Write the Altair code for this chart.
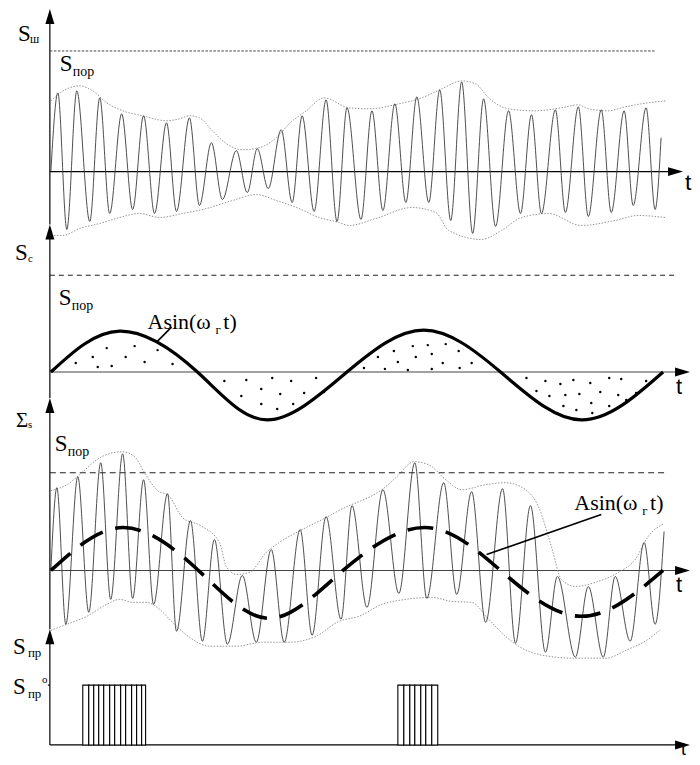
import altair as alt
import pandas as pd

# ---------------- data (t = time units, v = amplitude units; 0 = panel baseline) -------------
# Panel 1: noise S_ш  (carrier extrema)
p1_t = [1, 8, 17, 27, 40, 50, 60, 72, 83, 94, 105, 117, 127, 140, 150, 162, 173, 187, 198, 208,
        219, 232, 243, 253, 265, 277, 288, 298, 312, 323, 334, 346, 357, 368, 380, 391, 402, 413,
        424, 435, 447, 460, 472, 483, 493, 507, 517, 530, 540, 553, 563, 576, 585, 598, 607, 613]
p1_v = [0, 79, -58, 81, -50, 74, -42, 58, -38, 56, -42, 49, -40, 54, -34, 29, -28, 21, -21, 23,
        -17, 42, -31, 56, -40, 72, -50, 64, -48, 61, -39, 68, -31, 75, -31, 82, -49, 90,
        -62, 73, -55, 61, -42, 57, -42, 62, -41, 65, -45, 62, -41, 61, -34, 64, -38, 34]
p1_up_t = [1, 17, 30, 43, 57, 73, 93, 117, 130, 140, 150, 163, 177, 193, 210, 227, 240, 257, 275,
           300, 320, 350, 373, 393, 413, 427, 440, 460, 487, 513, 530, 540, 560, 577, 600, 618]
p1_up_v = [71, 83, 86, 81, 69, 61, 56, 51, 53, 56, 54, 41, 28, 22, 24, 34, 48, 61, 74,
           64, 63, 68, 74, 83, 91, 88, 74, 63, 61, 64, 67, 63, 61, 65, 69, 71]
p1_lo_t = [1, 13, 30, 50, 70, 90, 110, 133, 157, 183, 207, 227, 250, 270, 290, 300, 327, 363,
           387, 400, 433, 453, 473, 500, 533, 567, 590, 617]
p1_lo_v = [-64, -64, -57, -52, -46, -42, -46, -42, -37, -29, -23, -29, -37, -46, -51, -54, -47, -36,
           -41, -59, -68, -59, -46, -42, -54, -49, -44, -46]
p1_threshold = 121

# Panel 2: signal S_c = A sin(w t)
p2_t = [1, 70, 148, 218, 298, 375, 452, 533, 615]
p2_v = [0, 41, 0, -48, 0, 42, 0, -48, 0]
p2_threshold = 97
p2_dot_t = [26, 43, 48, 57, 62, 76, 85, 95, 108, 123,
            175, 197, 223, 242, 267, 192, 212, 231, 255, 275, 212, 228, 244,
            315, 329, 336, 345, 349, 359, 364, 367, 379, 383, 383, 394, 397, 410, 411, 423,
            478, 497, 512, 525, 542, 561, 573, 598, 488, 501, 517, 531, 552, 570, 578, 588,
            515, 528, 543, 544, 561]
p2_dot_v = [9, 15, 5, 24, 6, 15, 26, 10, 22, 8,
            -9, -8, -6, -9, -6, -24, -17, -22, -21, -20, -32, -37, -32,
            4, 15, 3, 21, 10, 2, 26, 15, 27, 18, 3, 9, 28, 21, 4, 9,
            -6, -9, -12, -8, -11, -6, -7, -9, -19, -24, -23, -22, -20, -23, -28, -21,
            -34, -38, -31, -41, -34]

# Panel 3: sum Σs
p3_t = [1, 7, 16, 28, 39, 51, 61, 73, 83, 94, 104, 118, 127, 141, 153, 165, 178, 193, 207, 222,
        235, 251, 263, 277, 292, 303, 318, 334, 350, 366, 378, 395, 408, 423, 437, 454, 467, 482,
        497, 509, 527, 540, 555, 567, 582, 596, 607, 616]
p3_v = [0, 83, -54, 94, -42, 108, -29, 117, -28, 91, -34, 77, -61, 50, -71, 31, -74, -5, -72, 21,
        -72, 41, -65, 54, -49, 65, -37, 81, -23, 108, -28, 88, -24, 79, -52, 82, -73, 65,
        -82, -6, -87, -16, -87, -6, -71, 28, -54, 39]
p3_up_t = [1, 17, 32, 47, 63, 73, 85, 95, 107, 120, 133, 153, 170, 177, 187, 200, 217, 230, 253,
           273, 300, 310, 333, 348, 365, 380, 397, 413, 437, 457, 477, 490, 503, 513, 527, 547,
           570, 587, 600, 616]
p3_up_v = [80, 86, 98, 111, 118, 119, 114, 98, 81, 74, 53, 44, 28, 4, -4, -2, 18, 28, 41,
           51, 65, 69, 81, 94, 109, 106, 91, 81, 86, 88, 81, 64, 24, -9, -16, -12,
           -2, 11, 34, 47]
p3_lo_t = [1, 17, 37, 57, 70, 83, 97, 110, 123, 140, 160, 187, 213, 240, 267, 290, 310, 333, 357,
           383, 403, 423, 440, 457, 470, 480, 500, 527, 557, 580, 597, 613]
p3_lo_v = [-60, -54, -46, -34, -29, -32, -32, -39, -52, -67, -76, -76, -72, -72, -66, -51, -46, -34,
           -29, -27, -31, -32, -49, -66, -76, -81, -86, -88, -88, -79, -71, -59]
p3_sin_t = [1, 73, 149, 220, 294, 376, 452, 533, 615]
p3_sin_v = [0, 43, 0, -48, 0, 43, 0, -46, 0]
p3_threshold = 98

# Panel 4: detector output S_пр (pulse strips)
p4_level = 60
p4_block1_edges = [33, 39, 44, 49, 54, 60, 65, 71, 76, 82, 87, 92, 96]
p4_block2_edges = [349, 355, 361, 366, 372, 377, 383, 389]

# ---------------- layout helpers -------------
W = 684
X_DOM = [-42, 642]
SERIF = "'Liberation Serif', 'Times New Roman', Times, 'DejaVu Serif', serif"
SANS = "'Liberation Sans', Arial, 'DejaVu Sans', sans-serif"


def X(f="t"):
    return alt.X(f"{f}:Q", scale=alt.Scale(domain=X_DOM, nice=False, zero=False), axis=None)


def Y(dom, f="v"):
    return alt.Y(f"{f}:Q", scale=alt.Scale(domain=dom, nice=False, zero=False), axis=None)


def line(t, v, dom, color="black", width=1.0, dash=None, interp="linear"):
    kw = dict(color=color, strokeWidth=width, interpolate=interp)
    if dash:
        kw["strokeDash"] = dash
    df = pd.DataFrame({"t": t, "v": v, "i": range(len(t))})
    return alt.Chart(df).mark_line(**kw).encode(x=X(), y=Y(dom), order="i:Q")


def rules(rows, dom, color="black", width=1.0, dash=None):
    kw = dict(color=color, strokeWidth=width)
    if dash:
        kw["strokeDash"] = dash
    df = pd.DataFrame(rows, columns=["t", "t2", "v", "v2"])
    return alt.Chart(df).mark_rule(**kw).encode(
        x=X(), x2=alt.X2("t2:Q"), y=Y(dom), y2=alt.Y2("v2:Q"))


UP = "M0,0L0.6,2L-0.6,2Z"
RIGHT = "M0,0L-2,-0.6L-2,0.6Z"


def arrows(rows, dom, shape):
    df = pd.DataFrame(rows, columns=["t", "v"])
    return alt.Chart(df).mark_point(shape=shape, size=225, filled=True, color="black",
                                    opacity=1, strokeWidth=0).encode(x=X(), y=Y(dom))


def texts(rows, dom, font=SERIF):
    df = pd.DataFrame(rows, columns=["t", "v", "txt", "fs"])
    return alt.Chart(df).mark_text(font=font, align="left", baseline="alphabetic",
                                   color="black").encode(
        x=X(), y=Y(dom), text="txt:N", size=alt.Size("fs:Q", scale=None))


CARRIER = "#3a3a3a"
ENV = "#8a8a8a"

# ---------------- Panel 1 -------------
d1 = [-53, 163]
panel1 = alt.layer(
    rules([(0, 0, d1[0], d1[1] - 4)], d1, width=1.2),
    rules([(0, 630, 0, 0)], d1, width=1.3),
    rules([(0, 607, p1_threshold, p1_threshold)], d1, color="#444", width=1.0, dash=[2.5, 1.5]),
    line(p1_up_t, p1_up_v, d1, color=ENV, width=0.9, dash=[1.5, 1.5], interp="monotone"),
    line(p1_lo_t, p1_lo_v, d1, color=ENV, width=0.9, dash=[1.5, 1.5], interp="monotone"),
    line(p1_t, p1_v, d1, color=CARRIER, width=0.9, interp="monotone"),
    arrows([(0, d1[1])], d1, UP),
    arrows([(635, 0)], d1, RIGHT),
    texts([(-32, 131, "S", 23), (-20, 129, "ш", 12),
           (10, 101, "S", 23), (23, 96, "пор", 14)], d1),
    texts([(637, -18, "t", 23)], d1, font=SANS),
).properties(width=W, height=216)

# ---------------- Panel 2 -------------
d2 = [-26, 148]
p2_dots = pd.DataFrame({"t": p2_dot_t, "v": p2_dot_v})
panel2 = alt.layer(
    rules([(0, 0, d2[0], d2[1] - 4)], d2, width=1.2),
    rules([(0, 636, 0, 0)], d2, color="#444", width=1.1),
    rules([(0, 628, p2_threshold, p2_threshold)], d2, color="#222", width=1.1, dash=[5, 4]),
    alt.Chart(p2_dots).mark_circle(size=6, color="black", opacity=1).encode(x=X(), y=Y(d2)),
    line(p2_t, p2_v, d2, color="black", width=3.2, interp="natural"),
    rules([(108, 122, 31, 45)], d2, width=1.6),
    arrows([(0, d2[1])], d2, UP),
    arrows([(642, 0)], d2, RIGHT),
    texts([(-35, 112, "S", 23), (-22, 110, "c", 11),
           (9, 67, "S", 23), (22, 62, "пор", 14),
           (98, 43, "Asin(ω", 22), (166, 38, "г", 13), (174, 43, "t)", 22)], d2),
    texts([(628, -22, "t", 22)], d2, font=SANS),
).properties(width=W, height=174)

# ---------------- Panel 3 -------------
d3 = [-59, 173]
panel3 = alt.layer(
    rules([(0, 0, d3[0], d3[1] - 4)], d3, width=1.2),
    rules([(0, 636, 0, 0)], d3, color="#444", width=1.1),
    rules([(0, 620, p3_threshold, p3_threshold)], d3, color="#222", width=1.1, dash=[6, 4]),
    line(p3_up_t, p3_up_v, d3, color=ENV, width=0.9, dash=[1.5, 1.5], interp="monotone"),
    line(p3_lo_t, p3_lo_v, d3, color=ENV, width=0.9, dash=[1.5, 1.5], interp="monotone"),
    line(p3_t, p3_v, d3, color=CARRIER, width=0.9, interp="monotone"),
    line(p3_sin_t, p3_sin_v, d3, color="black", width=3.6, dash=[26, 13], interp="natural"),
    rules([(438, 553, 16, 56)], d3, width=1.6),
    arrows([(0, d3[1])], d3, UP),
    arrows([(642, 0)], d3, RIGHT),
    texts([(-34, 144, "Σ", 21), (-22, 143, "s", 11),
           (5, 120, "S", 23), (18, 115, "пор", 14),
           (526, 61, "Asin(ω", 22), (594, 56, "г", 13), (602, 61, "t)", 22)], d3),
    texts([(628, -22, "t", 22)], d3, font=SANS),
).properties(width=W, height=232)

# ---------------- Panel 4 -------------
d4 = [-10, 116]
pulse_rows = []
for edges in (p4_block1_edges, p4_block2_edges):
    for a, b in zip(edges[:-1], edges[1:]):
        pulse_rows.append((a, b, 0, p4_level))
pulses = pd.DataFrame(pulse_rows, columns=["t", "t2", "v", "v2"])
panel4 = alt.layer(
    rules([(0, 0, 0, d4[1] - 4)], d4, width=1.2),
    rules([(0, 636, 0, 0)], d4, width=1.2),
    rules([(-2, 0, p4_level, p4_level)], d4, width=1.2),
    alt.Chart(pulses).mark_rect(fill="white", stroke="black", strokeWidth=1.1).encode(
        x=X(), x2=alt.X2("t2:Q"), y=Y(d4), y2=alt.Y2("v2:Q")),
    arrows([(0, d4[1])], d4, UP),
    arrows([(642, 0)], d4, RIGHT),
    texts([(-37, 91, "S", 23), (-22, 88, "пр", 13),
           (-37, 51, "S", 23), (-22, 47, "пр", 13), (-8, 62, "o", 11)], d4),
    texts([(633, -10, "t", 18)], d4, font=SANS),
).properties(width=W, height=126)

chart = alt.VConcatChart(
    vconcat=[panel1, panel2, panel3, panel4], spacing=0, bounds="flush"
).properties(padding=0).configure_view(stroke=None)

chart.save("out.html", embed_options={"renderer": "svg", "actions": False})
